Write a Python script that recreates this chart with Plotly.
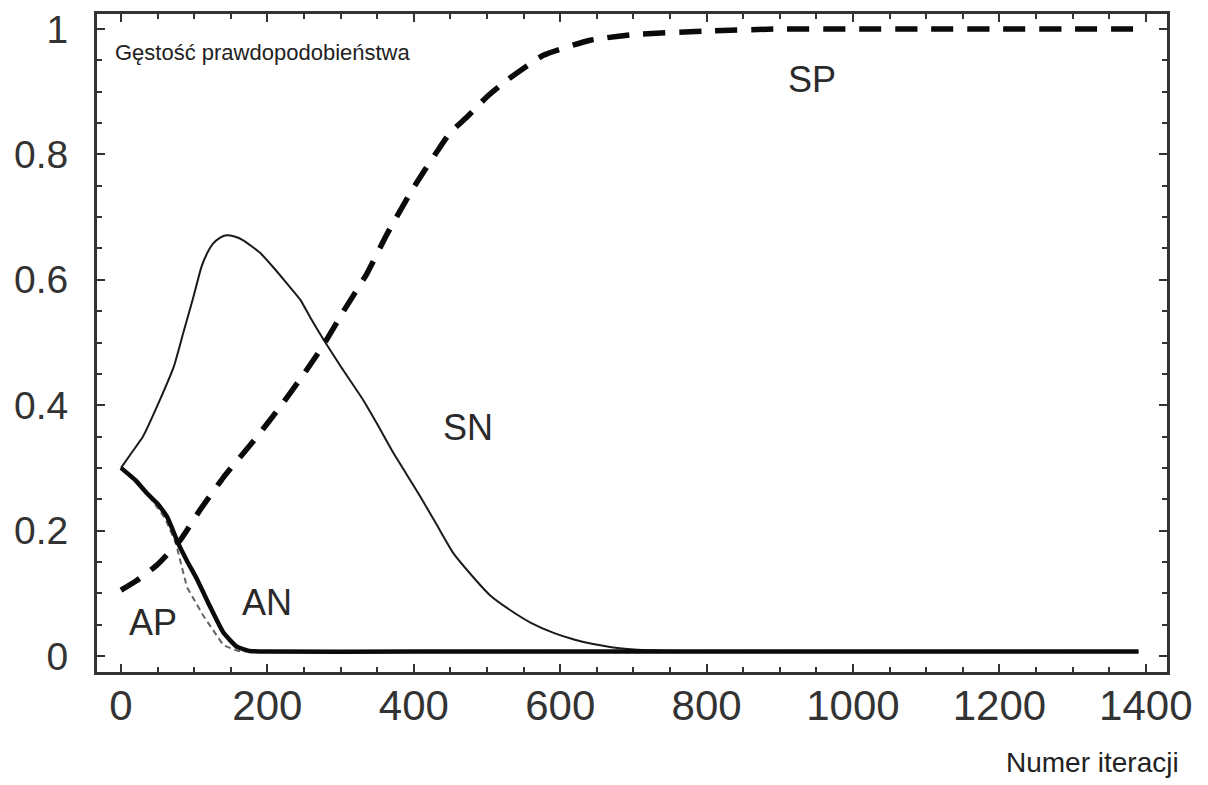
import plotly.graph_objects as go

# ---- data ----
sp_x = [0, 21, 49, 81, 108, 140, 186, 217, 250, 276, 304, 336, 363, 395, 415, 432, 450, 473, 500, 528, 577, 641, 700, 805, 900, 1000, 1100, 1200, 1300, 1390]
sp_y = [0.105, 0.12, 0.145, 0.185, 0.233, 0.285, 0.35, 0.397, 0.45, 0.495, 0.55, 0.61, 0.672, 0.738, 0.775, 0.805, 0.835, 0.86, 0.892, 0.919, 0.958, 0.982, 0.991, 0.997, 1.0, 1.0, 1.0, 1.0, 1.0, 1.0]

sn_x = [0, 15, 30, 53, 72, 85, 99, 110, 118, 126, 135, 144, 155, 167, 190, 208, 226, 245, 260, 277, 300, 331, 350, 372, 390, 409, 430, 454, 481, 504, 532, 560, 591, 620, 645, 670, 692, 720, 760, 1000, 1390]
sn_y = [0.30, 0.325, 0.35, 0.408, 0.461, 0.515, 0.573, 0.621, 0.643, 0.658, 0.667, 0.671, 0.669, 0.663, 0.643, 0.62, 0.595, 0.568, 0.537, 0.504, 0.462, 0.408, 0.37, 0.324, 0.29, 0.254, 0.212, 0.164, 0.126, 0.097, 0.073, 0.053, 0.037, 0.026, 0.019, 0.014, 0.011, 0.009, 0.008, 0.007, 0.007]

an_x = [0, 20, 35, 50, 63, 70, 78, 90, 104, 122, 140, 158, 176, 200, 400, 800, 1390]
an_y = [0.30, 0.28, 0.26, 0.243, 0.222, 0.203, 0.18, 0.152, 0.122, 0.078, 0.037, 0.015, 0.008, 0.007, 0.007, 0.007, 0.007]

ap_x = [0, 35, 60, 75, 90, 112, 140, 160, 200, 1390]
ap_y = [0.30, 0.26, 0.22, 0.18, 0.11, 0.065, 0.017, 0.008, 0.006, 0.006]

x_ticks = [0, 200, 400, 600, 800, 1000, 1200, 1400]
y_ticks = [0, 0.2, 0.4, 0.6, 0.8, 1]
y_tick_text = ["0", "0.2", "0.4", "0.6", "0.8", "1"]

curve_labels = ["SP", "SN", "AN", "AP"]
curve_label_x = [944, 474, 199, 44]
curve_label_y = [0.919, 0.364, 0.086, 0.053]

FONT = "Liberation Sans, Arial, sans-serif"

fig = go.Figure()
fig.add_trace(go.Scatter(x=ap_x, y=ap_y, mode="lines",
                         line=dict(color="#666666", width=2, dash="6px,4px"), name="AP"))
fig.add_trace(go.Scatter(x=sn_x, y=sn_y, mode="lines",
                         line=dict(color="#1a1a1a", width=2, shape="spline", smoothing=0.5), name="SN"))
fig.add_trace(go.Scatter(x=an_x, y=an_y, mode="lines",
                         line=dict(color="#0a0a0a", width=4.5, shape="spline", smoothing=0.4), name="AN"))
fig.add_trace(go.Scatter(x=sp_x, y=sp_y, mode="lines",
                         line=dict(color="#0a0a0a", width=5.5, dash="22px,14px", shape="spline", smoothing=0.5), name="SP"))

for t, lx, ly in zip(curve_labels, curve_label_x, curve_label_y):
    fig.add_annotation(x=lx, y=ly, xref="x", yref="y", text=t, showarrow=False,
                       font=dict(family=FONT, size=36, color="#2a2a2a"),
                       xanchor="center", yanchor="middle")

fig.add_annotation(x=-11, y=0.962, xref="x", yref="y", text="Gęstość prawdopodobieństwa",
                   showarrow=False, xanchor="left", yanchor="middle",
                   font=dict(family=FONT, size=22, color="#222222"))
fig.add_annotation(x=1.013, y=-0.138, xref="paper", yref="paper", text="Numer iteracji",
                   showarrow=False, xanchor="right", yanchor="middle",
                   font=dict(family=FONT, size=28, color="#222222"))

fig.update_xaxes(range=[-32.8, 1429], tickvals=x_ticks, ticks="inside", ticklen=8, tickwidth=2,
                 tickcolor="#333333", showline=True, linewidth=3, linecolor="#333333",
                 mirror="allticks", showgrid=False, zeroline=False, ticklabelstandoff=-5,
                 ticklabeloverflow="allow",
                 tickfont=dict(family=FONT, size=42, color="#333333"),
                 minor=dict(dtick=50, ticks="inside", ticklen=5, tickwidth=2, tickcolor="#333333", showgrid=False))
fig.update_yaxes(range=[-0.0255, 1.0239], tickvals=y_ticks, ticktext=y_tick_text, ticks="inside", ticklen=8,
                 tickwidth=2, tickcolor="#333333", showline=True, linewidth=3, linecolor="#333333",
                 mirror="allticks", showgrid=False, zeroline=False, ticklabelstandoff=18,
                 ticklabeloverflow="allow",
                 tickfont=dict(family=FONT, size=39, color="#333333"),
                 minor=dict(dtick=0.05, ticks="inside", ticklen=5, tickwidth=2, tickcolor="#333333", showgrid=False))

fig.update_layout(width=1200, height=777, margin=dict(l=89, r=41, t=6, b=113, autoexpand=False),
                  plot_bgcolor="white", paper_bgcolor="white", showlegend=False)

fig.write_html("out.html")
